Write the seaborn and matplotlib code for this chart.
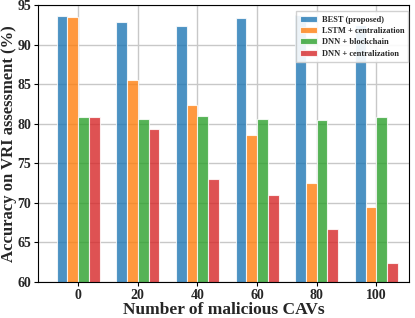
import pandas as pd
import seaborn as sns
import matplotlib.pyplot as plt

##Accuracy values
malicious = ['0', '20', '40', '60', '80', '100']
best = [93.6, 92.9, 92.4, 93.4, 93.7, 92.5]
lstm_central = [93.5, 85.5, 82.4, 78.6, 72.5, 69.5]
dnn_chain = [80.8, 80.6, 81.0, 80.6, 80.5, 80.9]
dnn_central = [80.8, 79.4, 73.0, 71.0, 66.7, 62.4]
methods = ['BEST (proposed)', 'LSTM + centralization', 'DNN + blockchain', 'DNN + centralization']

rows = []
for name, vals in zip(methods, [best, lstm_central, dnn_chain, dnn_central]):
    for m, v in zip(malicious, vals):
        rows.append({'cavs': m, 'acc': v, 'method': name})
df = pd.DataFrame(rows)

sns.set_style('whitegrid')
plt.rcParams['font.family'] = ['Liberation Serif', 'DejaVu Serif']
plt.rcParams['font.weight'] = 'bold'

fig, ax = plt.subplots(figsize=(4.15, 3.18), dpi=100)
sns.barplot(data=df, x='cavs', y='acc', hue='method', order=malicious, hue_order=methods,
            palette=['#1f77b4', '#ff7f0e', '#2ca02c', '#d62728'], saturation=1, alpha=0.8,
            edgecolor='white', linewidth=0.8, width=0.72, ax=ax)

ax.set_ylim(60, 95)
ax.set_xlim(-0.67, 5.55)
ax.set_yticks([60, 65, 70, 75, 80, 85, 90, 95])
ax.grid(True, axis='both', color='#c8c8c8', linewidth=1.0)
ax.set_axisbelow(True)
for s in ax.spines.values():
    s.set_color('black')
    s.set_linewidth(0.8)
ax.tick_params(axis='both', labelsize=10, length=3, color='black', left=True, bottom=True, pad=2)
for lab in ax.get_xticklabels() + ax.get_yticklabels():
    lab.set_fontweight('bold')
ax.set_xlabel('Number of malicious CAVs', fontsize=12.5, fontweight='bold', labelpad=0)
ax.set_ylabel('Accuracy on VRI assessment (%)', fontsize=12, fontweight='bold', labelpad=0)

leg = ax.legend(loc='upper right', prop={'size': 6.0, 'weight': 'bold'}, frameon=True,
                fancybox=False, framealpha=0.9, borderpad=0.5, handlelength=2.1,
                labelspacing=0.4, handletextpad=0.5,
                bbox_to_anchor=(1.0, 0.98), borderaxespad=0.1)
leg.get_frame().set_edgecolor('#cccccc')

plt.subplots_adjust(left=0.092, right=0.986, top=0.984, bottom=0.113)
plt.savefig('out.png', dpi=100)
